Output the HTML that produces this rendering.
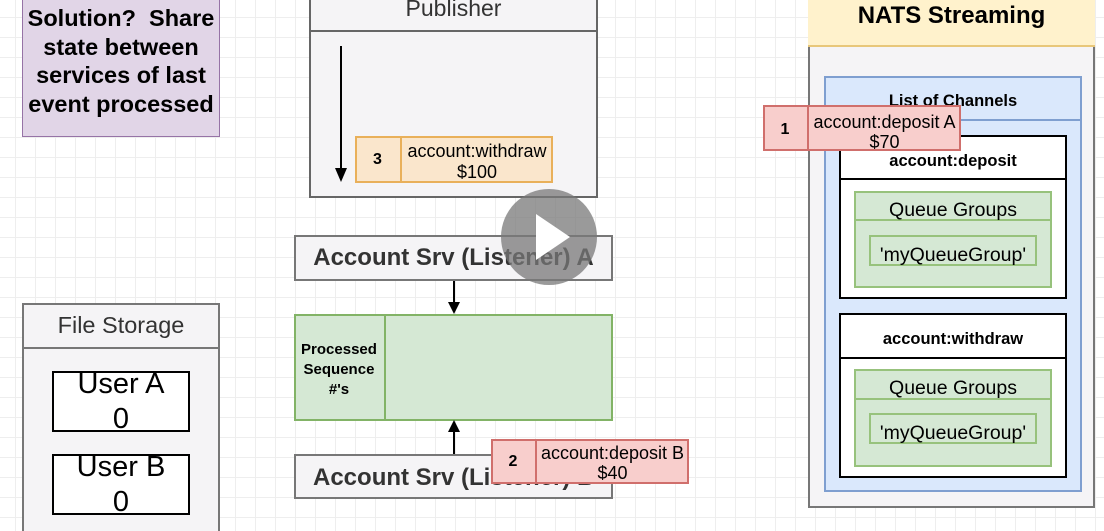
<!DOCTYPE html>
<html><head><meta charset="utf-8"><style>
html,body{margin:0;width:1104px;height:531px;overflow:hidden}
body{position:relative;font-family:"Liberation Sans",sans-serif;
background-color:#fff;background-image:linear-gradient(#eeeeee 1px,transparent 1px),linear-gradient(90deg,#eeeeee 1px,transparent 1px);background-size:20px 20px;background-position:-5px -3px}
.a{position:absolute;box-sizing:border-box}
.c{display:flex;align-items:center;justify-content:center;text-align:center}
</style></head><body>
<div class="a" style="left:22px;top:-2px;width:198px;height:139px;background:#e1d5e7;border:1px solid #9673a6"></div>
<div class="a" style="left:14px;top:4px;width:214px;text-align:center;font-weight:bold;font-size:23.5px;line-height:28.7px;white-space:nowrap">Solution?&nbsp; Share<br>state between<br>services of last<br>event processed</div>

<div class="a" style="left:309px;top:-2px;width:289px;height:200px;background:#f5f4f6;border:2px solid #666"></div>
<div class="a c" style="left:309px;top:-2px;width:289px;height:34px;border-bottom:2px solid #666;font-size:23px;color:#333;padding-bottom:12px">Publisher</div>
<div class="a" style="left:340px;top:46px;width:2px;height:128px;background:#000"></div>
<div class="a" style="left:335px;top:168px;border-left:6px solid transparent;border-right:6px solid transparent;border-top:14px solid #000"></div>
<div class="a" style="left:355px;top:136px;width:198px;height:47px;background:#fae6cc;border:2px solid #e9b05a"></div>
<div class="a c" style="left:355px;top:136px;width:47px;height:47px;border-right:2px solid #e9b05a;font-weight:bold;font-size:16px">3</div>
<div class="a c" style="left:401px;top:136px;width:152px;height:47px;font-size:18px;line-height:21px;padding-top:4px">account:withdraw<br>$100</div>

<div class="a c" style="left:294px;top:235px;width:319px;height:46px;background:#f5f4f6;border:2px solid #777;font-weight:bold;font-size:24px;color:#333">Account Srv (Listener) A</div>
<div class="a" style="left:453px;top:281px;width:2px;height:28px;background:#000"></div>
<div class="a" style="left:448px;top:302px;border-left:6px solid transparent;border-right:6px solid transparent;border-top:12px solid #000"></div>
<div class="a" style="left:294px;top:314px;width:319px;height:107px;background:#d5e8d4;border:2px solid #82b366"></div>
<div class="a c" style="left:294px;top:314px;width:92px;height:107px;border-right:2px solid #82b366;font-weight:bold;font-size:15px;line-height:20px;white-space:nowrap;padding-top:4px">Processed<br>Sequence<br>#'s</div>
<div class="a" style="left:453px;top:426px;width:2px;height:29px;background:#000"></div>
<div class="a" style="left:448px;top:420px;border-left:6px solid transparent;border-right:6px solid transparent;border-bottom:12px solid #000"></div>
<div class="a" style="left:294px;top:454px;width:319px;height:45px;background:#f5f4f6;border:2px solid #777;font-weight:bold;font-size:24px;color:#333;padding:8px 0 0 17px;white-space:nowrap">Account Srv (Listener) B</div>
<div class="a" style="left:491px;top:439px;width:198px;height:45px;background:#f8cecc;border:2px solid #d06f6c"></div>
<div class="a c" style="left:491px;top:439px;width:46px;height:45px;border-right:2px solid #d06f6c;font-weight:bold;font-size:16px">2</div>
<div class="a c" style="left:536px;top:439px;width:153px;height:45px;font-size:18px;line-height:20px;padding-top:2px;white-space:nowrap">account:deposit B<br>$40</div>

<div class="a" style="left:22px;top:303px;width:198px;height:240px;background:#f5f4f6;border:2px solid #777"></div>
<div class="a c" style="left:22px;top:303px;width:198px;height:46px;border-bottom:2px solid #777;font-size:23.5px;color:#333">File Storage</div>
<div class="a c" style="left:52px;top:371px;width:138px;height:61px;background:#fff;border:2px solid #000;font-size:29px;line-height:35px">User A<br>0</div>
<div class="a c" style="left:52px;top:454px;width:138px;height:61px;background:#fff;border:2px solid #000;font-size:29px;line-height:35px">User B<br>0</div>

<div class="a" style="left:808px;top:-2px;width:287px;height:510px;background:#f5f4f6;border:2px solid #777"></div>
<div class="a c" style="left:808px;top:-2px;width:287px;height:49px;background:#fff2cc;border-bottom:2px solid #e8c77a;font-weight:bold;font-size:24px;padding-bottom:12px">NATS Streaming</div>
<div class="a" style="left:824px;top:76px;width:258px;height:416px;background:#dae8fc;border:2px solid #7f9fd0"></div>
<div class="a c" style="left:824px;top:76px;width:258px;height:45px;border-bottom:2px solid #7f9fd0;font-weight:bold;font-size:16.5px;padding-top:8px">List of Channels</div>

<div class="a" style="left:839px;top:135px;width:228px;height:164px;background:#fff;border:2px solid #000"></div>
<div class="a c" style="left:839px;top:135px;width:228px;height:45px;border-bottom:2px solid #000;font-weight:bold;font-size:16.5px;padding-top:10px">account:deposit</div>
<div class="a" style="left:854px;top:191px;width:198px;height:97px;background:#d5e8d4;border:2px solid #97c27c"></div>
<div class="a c" style="left:854px;top:191px;width:198px;height:30px;border-bottom:2px solid #97c27c;font-size:19.5px;padding-top:10px">Queue Groups</div>
<div class="a c" style="left:869px;top:235px;width:168px;height:31px;border:2px solid #97c27c;font-size:19.5px;padding-top:10px">'myQueueGroup'</div>

<div class="a" style="left:839px;top:313px;width:228px;height:165px;background:#fff;border:2px solid #000"></div>
<div class="a c" style="left:839px;top:313px;width:228px;height:46px;border-bottom:2px solid #000;font-weight:bold;font-size:16.5px;padding-top:8px">account:withdraw</div>
<div class="a" style="left:854px;top:369px;width:198px;height:98px;background:#d5e8d4;border:2px solid #97c27c"></div>
<div class="a c" style="left:854px;top:369px;width:198px;height:31px;border-bottom:2px solid #97c27c;font-size:19.5px;padding-top:10px">Queue Groups</div>
<div class="a c" style="left:869px;top:413px;width:168px;height:31px;border:2px solid #97c27c;font-size:19.5px;padding-top:10px">'myQueueGroup'</div>

<div class="a" style="left:763px;top:105px;width:198px;height:46px;background:#f8cecc;border:2px solid #d06f6c"></div>
<div class="a c" style="left:763px;top:105px;width:46px;height:46px;border-right:2px solid #d06f6c;font-weight:bold;font-size:16px;padding-top:4px">1</div>
<div class="a c" style="left:808px;top:105px;width:153px;height:46px;font-size:18px;line-height:20px;padding-top:8px;white-space:nowrap">account:deposit A<br>$70</div>

<div class="a" style="left:501px;top:189px;width:96px;height:96px;border-radius:50%;background:rgba(120,120,120,0.75)"></div>
<div class="a" style="left:536px;top:214px;border-top:23px solid transparent;border-bottom:23px solid transparent;border-left:34px solid #fff"></div>
</body></html>
